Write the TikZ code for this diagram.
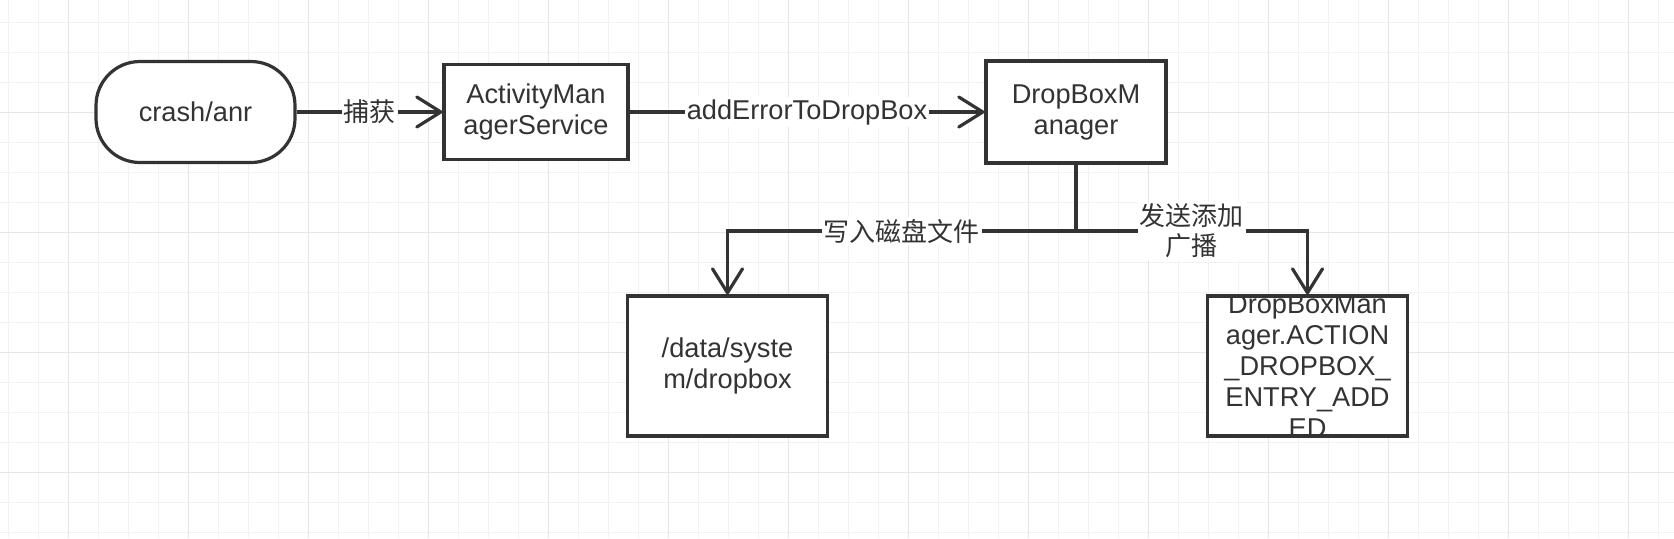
\documentclass[tikz,border=0pt]{standalone}
\usepackage{fontspec}
\setmainfont{Liberation Sans}
\newfontfamily\cjk{Noto Sans CJK SC}
\usetikzlibrary{arrows.meta}
\definecolor{gridminor}{HTML}{F2F2F2}
\definecolor{gridmajor}{HTML}{E6E6E6}
\definecolor{inkgray}{HTML}{333333}
\tikzset{
  box/.style={draw=inkgray, line width=1.6pt, fill=white, text=inkgray, align=center, inner sep=0pt, font=\fontsize{13.6}{15.5}\selectfont},
  flow/.style={draw=inkgray, line width=1.6pt, -{Straight Barb[length=12pt, width=15pt, round]}},
  tag/.style={fill=white, text=inkgray, inner sep=1pt, align=center, font=\fontsize{13.6}{15}\selectfont},
  boxtext/.style={text=inkgray, align=center, inner sep=0pt, font=\fontsize{13.6}{15.5}\selectfont}
}

\begin{document}
\begin{tikzpicture}[x=0.5pt, y=-0.5pt]
  \fill[white] (0,0) rectangle (1674,538);
  \useasboundingbox (0,0) rectangle (1674,538);
  % grid
  \foreach \gx in {0,...,55} \draw[gridminor, line width=0.7pt] ({8.3+30*\gx},0) -- ++(0,538);
  \foreach \gy in {0,...,17} \draw[gridminor, line width=0.7pt] (0,{22.5+30*\gy}) -- ++(1674,0);
  \foreach \gx in {0,...,13} \draw[gridmajor, line width=0.7pt] ({68.3+120*\gx},0) -- ++(0,538);
  \foreach \gy in {0,...,3} \draw[gridmajor, line width=0.7pt] (0,{112.3+120*\gy}) -- ++(1674,0);

  % boxes
  \node[box, rounded corners=22pt, minimum width=99.5pt, minimum height=50.5pt] (crash) at (195.5,112) {crash/anr};
  \node[box, minimum width=92pt, minimum height=47.5pt] (ams) at (536,112) {ActivityMan\\agerService};
  \node[box, minimum width=90pt, minimum height=51pt] (dbm) at (1076,112) {DropBoxM\\anager};
  \node[box, minimum width=100pt, minimum height=70pt] (disk) at (727.5,366) {/data/syste\\m/dropbox};
  \node[box, minimum width=100pt, minimum height=70pt,
    label={[boxtext]center:DropBoxMan\\ager.ACTION\\\_DROPBOX\_\\ENTRY\_ADD\\ED}] (act) at (1307.5,366) {};

  % connectors
  \coordinate (split) at (1076,231);
  \draw[flow] (crash) -- node[tag, font=\fontsize{13}{15}\selectfont\cjk]{捕获} (ams);
  \draw[flow] (ams) -- node[tag]{addErrorToDropBox} (dbm);
  \draw[flow] (dbm) -- (split) -| node[pos=0.25, tag, font=\fontsize{13}{15}\selectfont\cjk]{写入磁盘文件} (disk);
  \draw[flow] (split) -| node[pos=0.25, tag, font=\fontsize{13}{15}\selectfont\cjk]{发送添加\\广播} (act);
\end{tikzpicture}
\end{document}
